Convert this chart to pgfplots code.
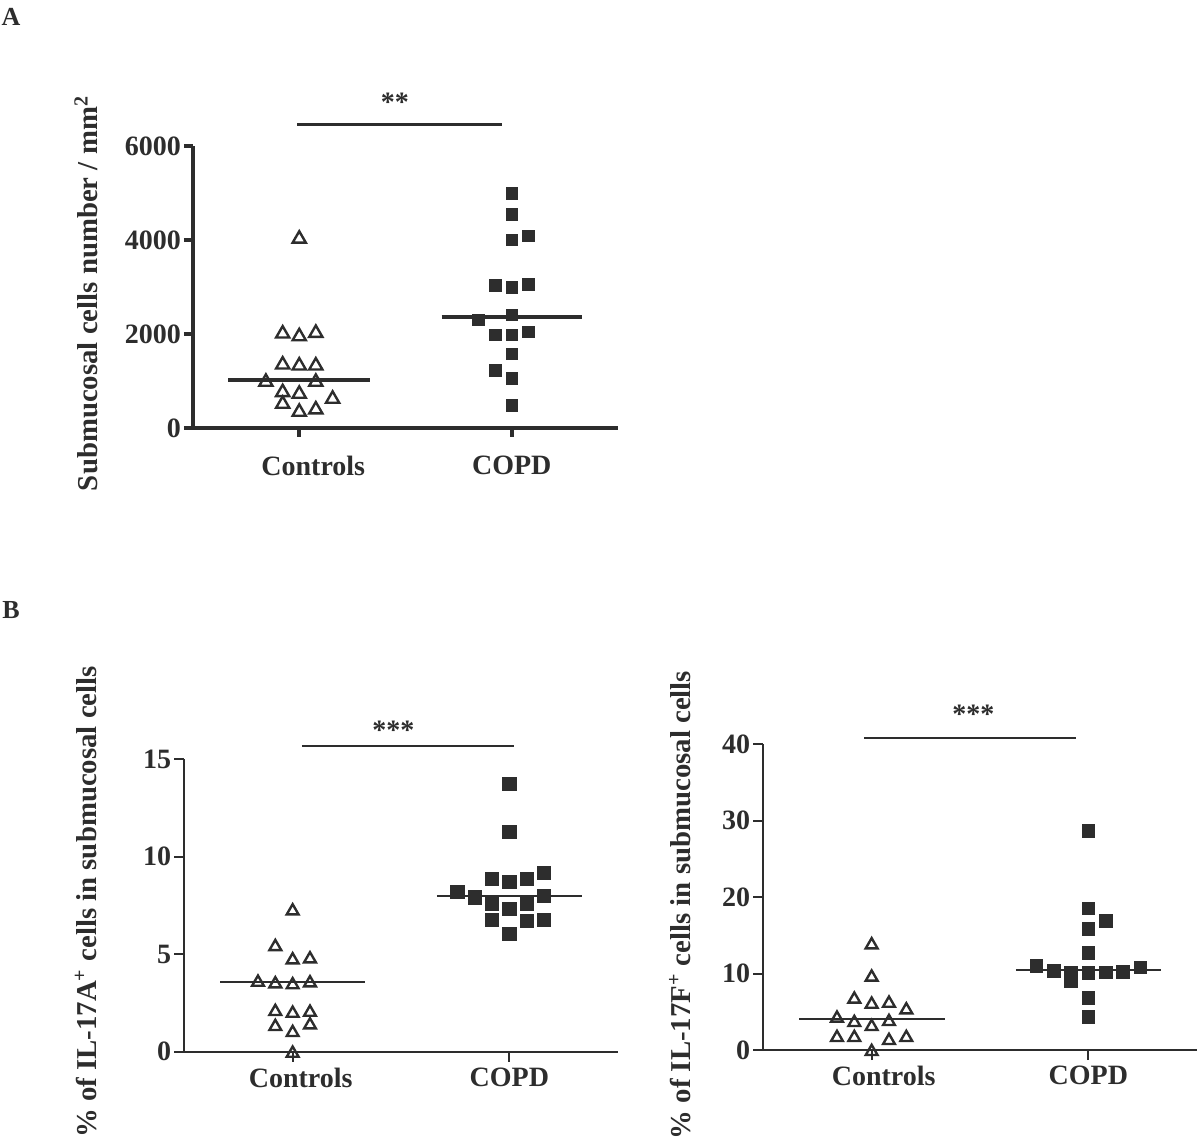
\documentclass[border=0pt]{standalone}
\usepackage{fontspec}
\setmainfont{Liberation Serif}
\usepackage{pgfplots}
\pgfplotsset{compat=1.18}
\definecolor{ink}{RGB}{45,45,45}
\pgfplotsset{
  panel/.style={
    scale only axis, anchor=south west,
    axis x line*=bottom, axis y line*=left,
    axis line style={-, ink},
    xmin=0.5, xmax=2.5, xtick={1,2},
    tick align=outside, tick pos=left,
    clip=false,
    /pgf/number format/assume math mode=true,
    tick label style={font=\fontsize{14}{16}\selectfont\bfseries, text=ink},
    label style={font=\fontsize{14.4}{17}\selectfont\bfseries, text=ink},
    yticklabel style={xshift=2pt},
  },
  ctrl/.style={only marks, mark=triangle, mark size=#1, mark options={draw=ink, line width=1.2pt, fill=none, yshift=-0.8pt}},
  copd/.style={only marks, mark=square*, mark size=#1, mark options={draw=ink, fill=ink, line width=0.3pt}},
}
\begin{document}
\begin{tikzpicture}
\useasboundingbox (0,0) rectangle (600pt,-572pt);
\clip (0,0) rectangle (600pt,-572pt);
\node[font=\fontsize{13}{15}\selectfont\bfseries, text=ink] at (5.5pt,-8.5pt) {A};
\node[font=\fontsize{13}{15}\selectfont\bfseries, text=ink] at (5.5pt,-305pt) {B};

% ---------------- Panel A ----------------
\begin{axis}[panel, at={(96.5pt,-214pt)}, width=212.5pt, height=141pt,
  ymin=0, ymax=6000, ytick={0,2000,4000,6000}, yticklabels={0,2000,4000,6000},
  axis line style={line width=2pt}, tick style={ink, line width=2pt}, major tick length=4.5pt,
  xticklabels={\hspace*{14pt}Controls, COPD},
  xticklabel style={yshift=-6pt},
  ylabel={Submucosal cells number / mm\textsuperscript{2}},
  ylabel style={at={(axis description cs:-0.251,0.477)}, anchor=center}]
\addplot[ctrl=3.8pt] coordinates {
(1,4059) (0.922,2040) (1,1983) (1.078,2054)
(0.922,1381) (1,1360) (1.078,1360)
(0.843,1013) (1.078,1013)
(0.922,793) (1,758) (1.157,652)
(0.922,545) (1,375) (1.078,425)
};
\addplot[copd=2.9pt] coordinates {
(2,4994) (2,4548) (2,4002) (2.078,4087)
(1.922,3039) (2,2996) (2.078,3060)
(1.843,2302) (2,2408)
(1.922,1983) (2,1983) (2.078,2047)
(2,1580) (1.922,1225) (2,1055) (2,489)
};
\addplot[ink, line width=2pt] coordinates {(0.667,1013) (1.333,1013)};
\addplot[ink, line width=2pt] coordinates {(1.67,2352) (2.33,2352)};
\addplot[ink, line width=1.5pt] coordinates {(0.99,6468) (1.953,6468)};
\node[font=\fontsize{14}{16}\selectfont\bfseries, text=ink] at (axis cs:1.45,6940) {**};
\end{axis}

% ---------------- Panel B left ----------------
\begin{axis}[panel, at={(92.15pt,-525.85pt)}, width=216.7pt, height=146.2pt,
  ymin=0, ymax=15, ytick={0,5,10,15},
  axis line style={line width=1pt}, tick style={ink, line width=1pt}, major tick length=5pt,
  xticklabels={\hspace*{8pt}Controls, COPD},
  xticklabel style={yshift=0.5pt},
  ylabel={\% of IL-17A\textsuperscript{+} cells in submucosal cells},
  ylabel style={at={(axis description cs:-0.227,0.512)}, anchor=center}]
\addplot[ctrl=3.4pt] coordinates {
(1,7.30) (0.92,5.47) (1,4.79) (1.08,4.84)
(0.84,3.64) (0.92,3.56) (1,3.51) (1.08,3.61)
(0.92,2.14) (1,2.05) (1.08,2.10)
(0.92,1.37) (1,1.06) (1.08,1.45) (1,0.0)
};
\addplot[copd=3.3pt] coordinates {
(2,13.75) (2,11.29) (2.16,9.18) (1.92,8.89) (2,8.72) (2.08,8.86)
(1.76,8.21) (1.84,7.92) (2.16,8.00) (1.92,7.58) (2.08,7.61) (2,7.35)
(1.92,6.76) (2.08,6.70) (2.16,6.76) (2,6.04)
};
\addplot[ink, line width=1pt] coordinates {(0.665,3.56) (1.335,3.56)};
\addplot[ink, line width=1pt] coordinates {(1.665,8.0) (2.335,8.0)};
\addplot[ink, line width=1.2pt] coordinates {(1.043,15.68) (2.023,15.68)};
\node[font=\fontsize{14}{16}\selectfont\bfseries, text=ink] at (axis cs:1.465,16.5) {***};
\end{axis}

% ---------------- Panel B right ----------------
\begin{axis}[panel, at={(381.65pt,-525pt)}, width=216.7pt, height=152.85pt,
  ymin=0, ymax=40, ytick={0,10,20,30,40},
  axis line style={line width=1pt}, tick style={ink, line width=1pt}, major tick length=5pt,
  xticklabels={\hspace*{12pt}Controls, COPD},
  xticklabel style={yshift=0.5pt},
  ylabel={\% of IL-17F\textsuperscript{+} cells in submucosal cells},
  ylabel style={at={(axis description cs:-0.192,0.474)}, anchor=center}]
\addplot[ctrl=3.4pt] coordinates {
(1,13.96) (1,9.73) (0.92,6.85) (1,6.19) (1.08,6.32) (1.16,5.45)
(0.84,4.36) (0.92,3.79) (1,3.27) (1.08,3.92)
(0.84,1.83) (0.92,1.83) (1.08,1.44) (1.16,1.83) (1,0)
};
\addplot[copd=3.2pt] coordinates {
(2,28.65) (2,18.53) (2.08,16.88) (2,15.83) (2,12.73)
(1.76,11.03) (1.84,10.38) (1.92,10.1) (1.92,9.1) (2,10.12)
(2.08,10.16) (2.16,10.25) (2.24,10.82) (2,6.85) (2,4.36)
};
\addplot[ink, line width=1pt] coordinates {(0.666,4.06) (1.339,4.06)};
\addplot[ink, line width=1pt] coordinates {(1.666,10.47) (2.337,10.47)};
\addplot[ink, line width=1.2pt] coordinates {(0.966,40.86) (1.943,40.86)};
\node[font=\fontsize{14}{16}\selectfont\bfseries, text=ink] at (axis cs:1.469,43.9) {***};
\end{axis}
\end{tikzpicture}
\end{document}
